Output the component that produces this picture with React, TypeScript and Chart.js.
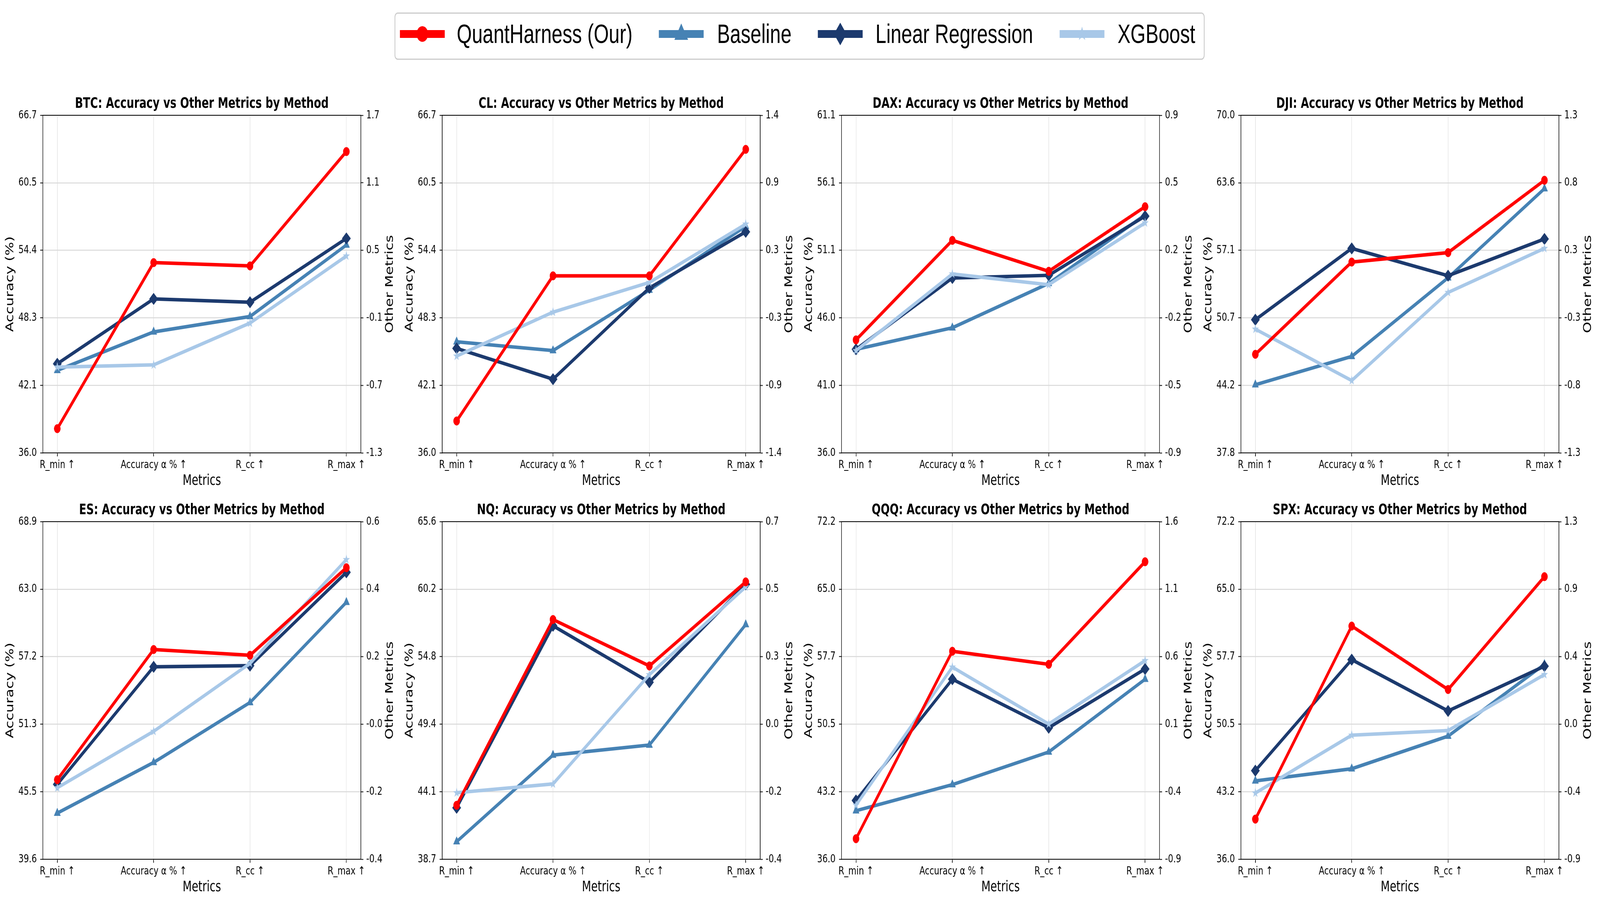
import React, { useEffect, useRef, useState } from 'react';
import { Chart, registerables } from 'chart.js';

Chart.register(...registerables);

// x categories
const metrics = ['R_min ↑', 'Accuracy α % ↑', 'R_cc ↑', 'R_max ↑'];
const methods = ['QuantHarness (Our)', 'Baseline', 'Linear Regression', 'XGBoost'];

// values as they sit on the left (Accuracy %) axis of each panel
const btcQuant = [38.2, 53.3, 53.0, 63.4];
const btcBase = [43.5, 47.0, 48.4, 54.9];
const btcLin = [44.1, 50.0, 49.7, 55.5];
const btcXgb = [43.8, 44.0, 47.8, 53.9];
const btcLeft = ['36.0', '42.1', '48.3', '54.4', '60.5', '66.7'];
const btcRight = ['-1.3', '-0.7', '-0.1', '0.5', '1.1', '1.7'];

const clQuant = [38.9, 52.1, 52.1, 63.6];
const clBase = [46.1, 45.3, 50.8, 56.6];
const clLin = [45.5, 42.7, 51.0, 56.1];
const clXgb = [44.8, 48.8, 51.5, 56.8];
const clLeft = ['36.0', '42.1', '48.3', '54.4', '60.5', '66.7'];
const clRight = ['-1.4', '-0.9', '-0.3', '0.3', '0.9', '1.4'];

const daxQuant = [44.4, 51.8, 49.5, 54.3];
const daxBase = [43.7, 45.3, 48.6, 53.7];
const daxLin = [43.7, 49.0, 49.2, 53.6];
const daxXgb = [43.6, 49.3, 48.5, 53.1];
const daxLeft = ['36.0', '41.0', '46.0', '51.1', '56.1', '61.1'];
const daxRight = ['-0.9', '-0.5', '-0.2', '0.2', '0.5', '0.9'];

const djiQuant = [47.2, 56.0, 56.9, 63.8];
const djiBase = [44.3, 47.0, 54.5, 63.0];
const djiLin = [50.5, 57.3, 54.7, 58.2];
const djiXgb = [49.6, 44.7, 53.1, 57.3];
const djiLeft = ['37.8', '44.2', '50.7', '57.1', '63.6', '70.0'];
const djiRight = ['-1.3', '-0.8', '-0.3', '0.3', '0.8', '1.3'];

const esQuant = [46.5, 57.8, 57.3, 64.9];
const esBase = [43.6, 48.0, 53.2, 61.9];
const esLin = [46.1, 56.3, 56.4, 64.5];
const esXgb = [45.8, 50.7, 56.6, 65.6];
const esLeft = ['39.6', '45.5', '51.3', '57.2', '63.0', '68.9'];
const esRight = ['-0.4', '-0.2', '-0.0', '0.2', '0.4', '0.6'];

const nqQuant = [43.0, 57.8, 54.1, 60.8];
const nqBase = [40.1, 47.0, 47.8, 57.4];
const nqLin = [42.8, 57.3, 52.8, 60.6];
const nqXgb = [44.0, 44.7, 53.4, 60.4];
const nqLeft = ['38.7', '44.1', '49.4', '54.8', '60.2', '65.6'];
const nqRight = ['-0.4', '-0.2', '0.0', '0.3', '0.5', '0.7'];

const qqqQuant = [38.2, 58.3, 56.9, 67.9];
const qqqBase = [41.2, 44.0, 47.5, 55.3];
const qqqLin = [42.3, 55.3, 50.1, 56.4];
const qqqXgb = [41.8, 56.6, 50.5, 57.3];
const qqqLeft = ['36.0', '43.2', '50.5', '57.7', '65.0', '72.2'];
const qqqRight = ['-0.9', '-0.4', '0.1', '0.6', '1.1', '1.6'];

const spxQuant = [40.3, 61.0, 54.2, 66.3];
const spxBase = [44.4, 45.7, 49.2, 56.9];
const spxLin = [45.5, 57.4, 51.9, 56.7];
const spxXgb = [43.1, 49.3, 49.8, 55.8];
const spxLeft = ['36.0', '43.2', '50.5', '57.7', '65.0', '72.2'];
const spxRight = ['-0.9', '-0.4', '0.0', '0.4', '0.9', '1.3'];

const panels = [
  { name: 'BTC', series: [btcQuant, btcBase, btcLin, btcXgb], left: btcLeft, right: btcRight },
  { name: 'CL', series: [clQuant, clBase, clLin, clXgb], left: clLeft, right: clRight },
  { name: 'DAX', series: [daxQuant, daxBase, daxLin, daxXgb], left: daxLeft, right: daxRight },
  { name: 'DJI', series: [djiQuant, djiBase, djiLin, djiXgb], left: djiLeft, right: djiRight },
  { name: 'ES', series: [esQuant, esBase, esLin, esXgb], left: esLeft, right: esRight },
  { name: 'NQ', series: [nqQuant, nqBase, nqLin, nqXgb], left: nqLeft, right: nqRight },
  { name: 'QQQ', series: [qqqQuant, qqqBase, qqqLin, qqqXgb], left: qqqLeft, right: qqqRight },
  { name: 'SPX', series: [spxQuant, spxBase, spxLin, spxXgb], left: spxLeft, right: spxRight },
];

const COLORS = ['#ff0000', '#4682b4', '#1c3a6e', '#a8c8e8'];
const FONT = 'DejaVu Sans';

// design size and plot-area geometry (px)
const FIG_W = 5605;
const FIG_H = 2311;
const PLOT_LEFT = [150, 1549, 2948, 4347];
const PLOT_TOP = [295, 1335];
const PLOT_W = 1114;
const PLOT_H = 864;
const PAD_SIDE = 150;
const PAD_TOP = 70;
const PAD_BOTTOM = 100;

function makeStar(color: string, r: number) {
  const size = Math.ceil(r * 2 + 2);
  const c = document.createElement('canvas');
  c.width = size;
  c.height = size;
  const ctx = c.getContext('2d')!;
  const cx = size / 2;
  const cy = size / 2;
  const inner = r * 0.382;
  ctx.beginPath();
  for (let i = 0; i < 10; i++) {
    const rr = i % 2 === 0 ? r : inner;
    const a = -Math.PI / 2 + (i * Math.PI) / 5;
    const px = cx + rr * Math.cos(a);
    const py = cy + rr * Math.sin(a);
    if (i === 0) ctx.moveTo(px, py);
    else ctx.lineTo(px, py);
  }
  ctx.closePath();
  ctx.fillStyle = color;
  ctx.fill();
  return c;
}

const framePlugin = {
  id: 'frame',
  afterDraw(chart: any) {
    const { ctx, chartArea: a } = chart;
    ctx.save();
    ctx.strokeStyle = '#000';
    ctx.lineWidth = 2;
    ctx.beginPath();
    ctx.moveTo(a.left - 1, a.top);
    ctx.lineTo(a.right + 1, a.top);
    ctx.stroke();
    // right-hand label reads bottom to top, as in the source
    ctx.translate(a.right + 102, (a.top + a.bottom) / 2);
    ctx.rotate(-Math.PI / 2);
    ctx.font = `37px "${FONT}"`;
    ctx.fillStyle = '#000';
    ctx.textAlign = 'center';
    ctx.textBaseline = 'middle';
    ctx.fillText('Other Metrics', 0, 0);
    ctx.restore();
  },
};

type PanelData = (typeof panels)[number];

function Panel({ panel, col, row }: { panel: PanelData; col: number; row: number }) {
  const canvasRef = useRef<HTMLCanvasElement | null>(null);

  useEffect(() => {
    if (!canvasRef.current) return;
    const star = makeStar(COLORS[3], 13);
    const styles = [
      { pointStyle: 'circle', radius: 11 },
      { pointStyle: 'triangle', radius: 13 },
      { pointStyle: 'rectRot', radius: 15 },
      { pointStyle: star, radius: 13 },
    ];
    const lmin = parseFloat(panel.left[0]);
    const lmax = parseFloat(panel.left[panel.left.length - 1]);
    const rmin = parseFloat(panel.right[0]);
    const rmax = parseFloat(panel.right[panel.right.length - 1]);

    // draw order: red on top, then XGBoost, Linear Regression, Baseline
    const drawOrder = [0, 3, 2, 1];
    const datasets = drawOrder.map((m) => ({
      label: methods[m],
      data: panel.series[m].map((v, i) => ({ x: i, y: v })),
      borderColor: COLORS[m],
      backgroundColor: COLORS[m],
      borderWidth: 9,
      pointStyle: styles[m].pointStyle as any,
      pointRadius: styles[m].radius,
      pointBackgroundColor: COLORS[m],
      pointBorderColor: COLORS[m],
      pointBorderWidth: 1,
      tension: 0,
      yAxisID: 'y',
      xAxisID: 'x',
    }));

    const tickFont = { family: FONT, size: 29 };
    const titleFont = { family: FONT, size: 37 };

    const chart = new Chart(canvasRef.current, {
      type: 'line',
      data: { datasets },
      options: {
        animation: false,
        responsive: true,
        maintainAspectRatio: false,
        devicePixelRatio: 1,
        events: [],
        layout: { padding: 0 },
        plugins: {
          legend: { display: false },
          tooltip: { enabled: false },
          title: {
            display: true,
            text: `${panel.name}: Accuracy vs Other Metrics by Method`,
            font: { family: FONT, size: 37, weight: 'bold', lineHeight: 1.2 },
            color: '#000',
            padding: { top: 18.8, bottom: 6.8 },
          },
        },
        scales: {
          x: {
            type: 'linear',
            min: -0.15,
            max: 3.15,
            afterBuildTicks: (scale: any) => {
              scale.ticks = metrics.map((_, i) => ({ value: i }));
            },
            afterFit: (scale: any) => {
              scale.height = PAD_BOTTOM;
            },
            ticks: {
              callback: (_v: any, i: number) => metrics[i],
              font: tickFont,
              color: '#000',
              padding: 5,
              autoSkip: false,
              maxRotation: 0,
              minRotation: 0,
            },
            grid: { color: '#e6e6e6', lineWidth: 2, tickColor: '#000', tickLength: 9, tickWidth: 2 },
            border: { display: true, color: '#000', width: 2 },
            title: {
              display: true,
              text: 'Metrics',
              font: { ...titleFont, lineHeight: 1.2 },
              color: '#000',
              padding: { top: 0, bottom: 5.8 },
            },
          },
          y: {
            type: 'linear',
            position: 'left',
            min: lmin,
            max: lmax,
            afterBuildTicks: (scale: any) => {
              scale.ticks = panel.left.map((_, i) => ({ value: lmin + ((lmax - lmin) * i) / 5 }));
            },
            afterFit: (scale: any) => {
              scale.width = PAD_SIDE;
            },
            ticks: {
              callback: (_v: any, i: number) => panel.left[i],
              font: tickFont,
              color: '#000',
              padding: 12,
            },
            grid: { color: '#d9d9d9', lineWidth: 2.5, tickColor: '#000', tickLength: 9, tickWidth: 2 },
            border: { display: true, color: '#000', width: 2 },
            title: {
              display: true,
              text: 'Accuracy (%)',
              font: { ...titleFont, lineHeight: 1.2 },
              color: '#000',
              padding: { top: 13.8, bottom: 0 },
            },
          },
          y1: {
            type: 'linear',
            position: 'right',
            min: rmin,
            max: rmax,
            afterBuildTicks: (scale: any) => {
              scale.ticks = panel.right.map((_, i) => ({ value: rmin + ((rmax - rmin) * i) / 5 }));
            },
            afterFit: (scale: any) => {
              scale.width = PAD_SIDE;
            },
            ticks: {
              callback: (_v: any, i: number) => panel.right[i],
              font: tickFont,
              color: '#000',
              padding: 10,
            },
            grid: { drawOnChartArea: false, tickColor: '#000', tickLength: 9, tickWidth: 2 },
            border: { display: true, color: '#000', width: 2 },
            title: { display: false },
          },
        },
      } as any,
      plugins: [framePlugin],
    });

    return () => {
      chart.destroy();
    };
  }, [panel]);

  return (
    <div
      style={{
        position: 'absolute',
        left: PLOT_LEFT[col] - PAD_SIDE,
        top: PLOT_TOP[row] - PAD_TOP,
        width: PLOT_W + 2 * PAD_SIDE,
        height: PAD_TOP + PLOT_H + PAD_BOTTOM,
      }}
    >
      <canvas ref={canvasRef} />
    </div>
  );
}

function starPath(cx: number, cy: number, r: number) {
  const inner = r * 0.382;
  const pts: string[] = [];
  for (let i = 0; i < 10; i++) {
    const rr = i % 2 === 0 ? r : inner;
    const a = -Math.PI / 2 + (i * Math.PI) / 5;
    pts.push(`${(cx + rr * Math.cos(a)).toFixed(1)},${(cy + rr * Math.sin(a)).toFixed(1)}`);
  }
  return pts.join(' ');
}

// legend item offsets inside the legend box
const legendHandleX = [19, 926, 1483, 2330];
const legendTextX = [218, 1130, 1685, 2533];

function Legend() {
  const W = 2838;
  const H = 121;
  const cy = 55;
  const hl = 157;
  return (
    <svg width={W} height={H} style={{ position: 'absolute', left: 1382, top: 32 }}>
      <rect x={1.5} y={1.5} width={W - 3} height={H - 3} rx={10} ry={10} fill="#fff" stroke="#cccccc" strokeWidth={3} />
      {methods.map((m, i) => {
        const x0 = legendHandleX[i];
        const mx = x0 + hl / 2;
        let marker: React.ReactNode = null;
        if (i === 0) marker = <circle cx={mx} cy={cy} r={20} fill={COLORS[0]} />;
        if (i === 1)
          marker = (
            <polygon points={`${mx},${cy - 27} ${mx + 24},${cy + 15} ${mx - 24},${cy + 15}`} fill={COLORS[1]} />
          );
        if (i === 2)
          marker = (
            <polygon points={`${mx},${cy - 29} ${mx + 22},${cy} ${mx},${cy + 29} ${mx - 22},${cy}`} fill={COLORS[2]} />
          );
        if (i === 3) marker = <polygon points={starPath(mx, cy, 19)} fill={COLORS[3]} />;
        return (
          <g key={m}>
            <line x1={x0} y1={cy} x2={x0 + hl} y2={cy} stroke={COLORS[i]} strokeWidth={20} />
            {marker}
            <text x={legendTextX[i]} y={78} fontFamily="Liberation Sans" fontSize={68} fill="#000">
              {m}
            </text>
          </g>
        );
      })}
    </svg>
  );
}

export default function App() {
  const [vp, setVp] = useState({ w: window.innerWidth, h: window.innerHeight });

  useEffect(() => {
    const onResize = () => setVp({ w: window.innerWidth, h: window.innerHeight });
    window.addEventListener('resize', onResize);
    return () => window.removeEventListener('resize', onResize);
  }, []);

  // fit the figure to whatever viewport the browser really has
  const sx = vp.w / FIG_W;
  const sy = vp.h / FIG_H;

  return (
    <div
      style={{
        position: 'fixed',
        left: 0,
        top: 0,
        width: vp.w,
        height: vp.h,
        overflow: 'hidden',
        background: '#fff',
      }}
    >
      <div
        style={{
          position: 'absolute',
          left: 0,
          top: 0,
          width: FIG_W,
          height: FIG_H,
          transform: `scale(${sx}, ${sy})`,
          transformOrigin: '0 0',
        }}
      >
        <Legend />
        {panels.map((p, i) => (
          <Panel key={p.name} panel={p} col={i % 4} row={Math.floor(i / 4)} />
        ))}
      </div>
    </div>
  );
}
